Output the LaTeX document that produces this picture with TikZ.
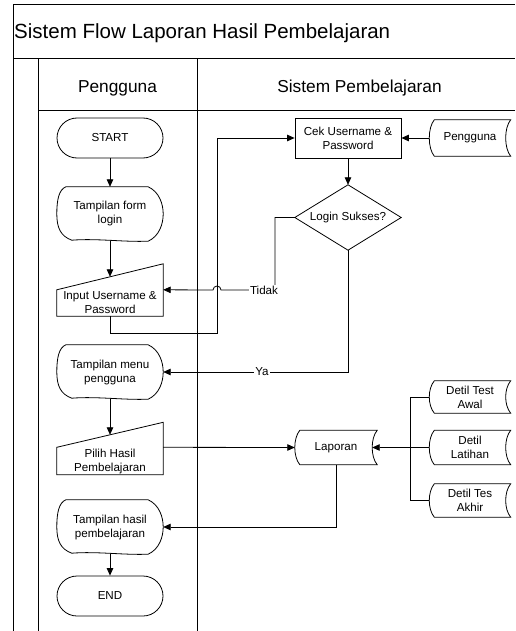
\documentclass[tikz,border=0pt]{standalone}
\usepackage{fontspec}
\setmainfont{Liberation Sans}
\usetikzlibrary{arrows.meta}

% Outline of a display step (curved left side, arc on the right)
\newcommand\displayout[1]{%
  \draw[shp] ([xshift=9pt]#1.north west) -- ([xshift=-15pt]#1.north east)
    .. controls ([xshift=-4pt,yshift=-5pt]#1.north east) and ([yshift=10pt]#1.east) .. (#1.east)
    .. controls ([yshift=-10pt]#1.east) and ([xshift=-4pt,yshift=5pt]#1.south east) .. ([xshift=-15pt]#1.south east)
    .. controls ([xshift=-40pt,yshift=-1pt]#1.south east) and ([xshift=40pt,yshift=3pt]#1.south west) .. ([xshift=15pt,yshift=1pt]#1.south west)
    .. controls ([xshift=4pt,yshift=5pt]#1.south west) and ([yshift=-14pt]#1.west) .. (#1.west)
    .. controls ([yshift=14pt]#1.west) and ([xshift=2pt,yshift=-3pt]#1.north west) .. ([xshift=9pt]#1.north west)
    -- cycle;}
% Outline of a manual input step: slanted top rising to the right
\newcommand\manualout[2]{%
  \draw[shp] (#1.north west) -- ([yshift=#2]#1.north east) -- (#1.south east) -- (#1.south west) -- cycle;}
% Outline of a stored data symbol
\newcommand\storedout[1]{%
  \draw[shp] ([xshift=5pt]#1.north west) -- (#1.north east)
    .. controls ([xshift=-6.7pt,yshift=-8pt]#1.north east) and ([xshift=-6.7pt,yshift=8pt]#1.south east) .. (#1.south east)
    -- ([xshift=5pt]#1.south west)
    .. controls ([xshift=-1.7pt,yshift=8pt]#1.south west) and ([xshift=-1.7pt,yshift=-8pt]#1.north west) .. ([xshift=5pt]#1.north west)
    -- cycle;}
% Outline of a decision diamond
\newcommand\diamondout[1]{%
  \draw[shp] (#1.north) -- (#1.east) -- (#1.south) -- (#1.west) -- cycle;}

\begin{document}
\begin{tikzpicture}[x=1pt,y=-1pt,
  every node/.style={font=\fontsize{11.6}{14}\selectfont, inner sep=0pt, align=center},
  frame/.style={line width=1pt},
  shp/.style={line width=0.8pt},
  plain/.style={line width=0.8pt},
  flow/.style={line width=0.8pt, -{Triangle[length=7.5pt,width=6.5pt]}},
  box/.style={minimum width=106pt, minimum height=#1},
  data/.style={minimum width=81pt, minimum height=#1},
  term/.style={draw, shp, rounded corners=20pt, minimum width=106pt, minimum height=40pt},
  proc/.style={draw, shp, minimum width=106pt, minimum height=40pt},
  lbl/.style={fill=white, inner sep=1pt},
  title/.style={font=\fontsize{20.5}{24}\selectfont},
  lane/.style={font=\fontsize{17.3}{20}\selectfont}
]
\useasboundingbox (0,0) rectangle (515,631);

% pool frame and swimlanes
\draw[frame] (13,631) -- (13,5) -- (515,5);
\draw[frame] (13,59) -- (515,59);
\draw[frame] (38,631) -- (38,59);
\draw[frame] (38,111) -- (515,111);
\draw[frame] (197,59) -- (197,631);

\node[title, anchor=west] (title) at (14,33) {Sistem Flow Laporan Hasil Pembelajaran};
\node[lane, anchor=base] (lane1) at (117.5,92.5) {Pengguna};
\node[lane, anchor=base] (lane2) at (359.5,92.5) {Sistem Pembelajaran};

% user lane
\node[term] (start) at (110,138) {START};
\node[box=54pt] (form) at (110,214) {Tampilan form\\login};
\node[box=26pt] (input) at (110,303) {Input Username \&\\Password};
\node[box=54pt] (menu) at (110,372) {Tampilan menu\\pengguna};
\node[box=27pt] (pilih) at (110,461) {Pilih Hasil\\Pembelajaran};
\node[box=54pt] (hasil) at (110,527) {Tampilan hasil\\pembelajaran};
\node[term] (end) at (110,596) {END};

% system lane
\node[proc] (cek) at (348,138) {Cek Username \&\\Password};
\node[data=36pt] (pengdata) at (470,138) {Pengguna};
\node[box=65pt] (login) at (348,217.5) {Login Sukses?};
\node[minimum width=82pt, minimum height=34pt] (laporan) at (336,447.5) {Laporan};
\node[data=32pt] (awal) at (470,397) {Detil Test\\Awal};
\node[data=34pt] (latihan) at (470,447.5) {Detil\\Latihan};
\node[data=33pt] (akhir) at (470,500.5) {Detil Tes\\Akhir};

\displayout{form}
\displayout{menu}
\displayout{hasil}
\manualout{input}{26pt}
\manualout{pilih}{25pt}
\diamondout{login}
\storedout{pengdata}
\storedout{laporan}
\storedout{awal}
\storedout{latihan}
\storedout{akhir}

% helper points for routed connectors
\coordinate (j1) at (217,333);
\coordinate (tk) at (275,290);
\coordinate (hop) at (217,290);
\coordinate (bus) at (410,0);

% connectors
\draw[flow] (start) -- (form);
\draw[flow] (form.south) -- ([yshift=13pt]input.north);
\draw[flow] (input.south) |- (j1) |- (cek.west);
\draw[flow] (pengdata.west) -- (cek.east);
\draw[flow] (cek.south) -- (login.north);
\draw[flow] (login.west) -| (tk) -- ([xshift=4pt]hop) arc[start angle=0, end angle=-180, radius=4] -- (input.north east);
\draw[flow] (login.south) |- (menu.east);
\draw[flow] (menu.south) -- ([yshift=12.5pt]pilih.north);
\draw[flow] (pilih.north east) -- (laporan.west);
\draw[plain] (awal.west) -- (awal.west -| bus) -- (akhir.west -| bus) -- (akhir.west);
\draw[flow] (latihan.west) -- ([xshift=-5pt]laporan.east);
\draw[flow] (laporan.south) |- (hasil.east);
\draw[flow] (hasil) -- (end);

% branch labels
\node[lbl] (tidak) at (264,290) {Tidak};
\node[lbl] (ya) at (262,371.5) {Ya};
\end{tikzpicture}
\end{document}
